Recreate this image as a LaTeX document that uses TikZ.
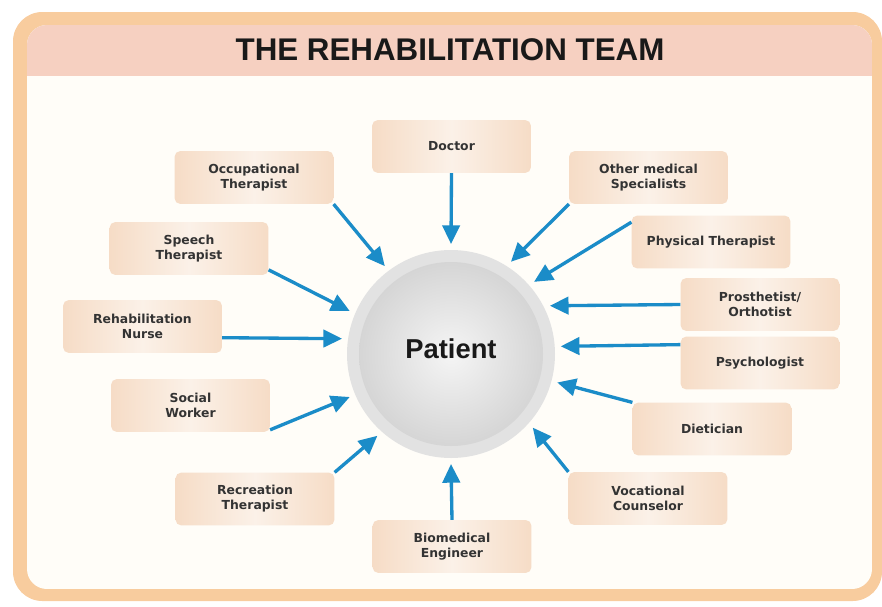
\documentclass[tikz,border=0pt]{standalone}
\usepackage{fontspec}
\setmainfont{Liberation Sans}
\newfontfamily\labelfont{DejaVu Sans}
\usetikzlibrary{arrows.meta}
\definecolor{frameorange}{HTML}{F8CC9E}
\definecolor{headpink}{HTML}{F6D0C1}
\definecolor{paper}{HTML}{FFFDF8}
\definecolor{boxedge}{HTML}{F6DCC6}
\definecolor{boxmid}{HTML}{FBF1E8}
\definecolor{arrowblue}{HTML}{1B8CC8}
\definecolor{ringgray}{HTML}{E2E2E2}

\begin{document}
\begin{tikzpicture}[x=.75pt,y=-.75pt,
  member/.style={rounded corners=4pt,minimum width=119pt,minimum height=39.5pt,inner sep=0pt,
    left color=boxedge,right color=boxedge,middle color=boxmid,align=center,text=black!80,
    font=\labelfont\bfseries\fontsize{9.3}{11.3}\selectfont},
  toward/.style={draw=arrowblue,line width=2.5pt,-{Triangle[length=14pt,width=13pt]}}]
\useasboundingbox (0,0) rectangle (882,607);
\fill[frameorange,rounded corners=22pt] (13,12) rectangle (882,601);
\begin{scope}
\clip[rounded corners=15pt] (27,25) rectangle (872,589);
\fill[paper] (27,25) rectangle (872,589);
\fill[headpink] (27,25) rectangle (872,76);
\end{scope}
\node[font=\bfseries\fontsize{23.5}{26}\selectfont,text=black!90] (title) at (450,50) {THE REHABILITATION TEAM};

% the patient in the middle
\node[circle,fill=ringgray,minimum size=156pt,inner sep=0pt,outer sep=4.5pt,text depth=8.5pt,
  path picture={\shade[inner color=black!4,outer color=black!18] (path picture bounding box.center) circle (69pt);},
  font=\bfseries\fontsize{20.5}{24}\selectfont,text=black!90] (patient) at (451,354) {Patient};

% team members
\node[member] (doctor) at (451.5,146.5) {Doctor};
\node[member] (occ) at (254,177.5) {Occupational\\Therapist};
\node[member] (other) at (648.5,177.5) {Other medical\\Specialists};
\node[member] (speech) at (189,248.5) {Speech\\Therapist};
\node[member] (phys) at (711,242) {Physical Therapist};
\node[member] (nurse) at (142.5,326.5) {Rehabilitation\\Nurse};
\node[member] (prosth) at (760,304.5) {Prosthetist/\\Orthotist};
\node[member] (psych) at (760,363) {Psychologist};
\node[member] (social) at (190.5,405.5) {Social\\Worker};
\node[member] (diet) at (712,429) {Dietician};
\node[member] (rec) at (255,499) {Recreation\\Therapist};
\node[member] (voc) at (648,498.5) {Vocational\\Counselor};
\node[member] (bio) at (452,546.5) {Biomedical\\Engineer};

\draw[toward] (doctor.south) -- (patient.north);
\draw[toward] (occ.south east) -- (patient.127);
\draw[toward] (other.south west) -- (patient.57);
\draw[toward] (speech.-15) -- (patient.157);
\draw[toward] (phys.166) -- (patient.41);
\draw[toward] (nurse.-8) -- (patient.172);
\draw[toward] (prosth.west) -- (patient.26);
\draw[toward] (psych.167) -- (patient.4);
\draw[toward] (social.-17) -- (patient.203);
\draw[toward] (diet.north west) -- (patient.-15);
\draw[toward] (voc.north west) -- (patient.-42);
\draw[toward] (bio.north) -- (patient.south);
\draw[toward] (rec.north east) -- (patient.228);
\end{tikzpicture}
\end{document}
